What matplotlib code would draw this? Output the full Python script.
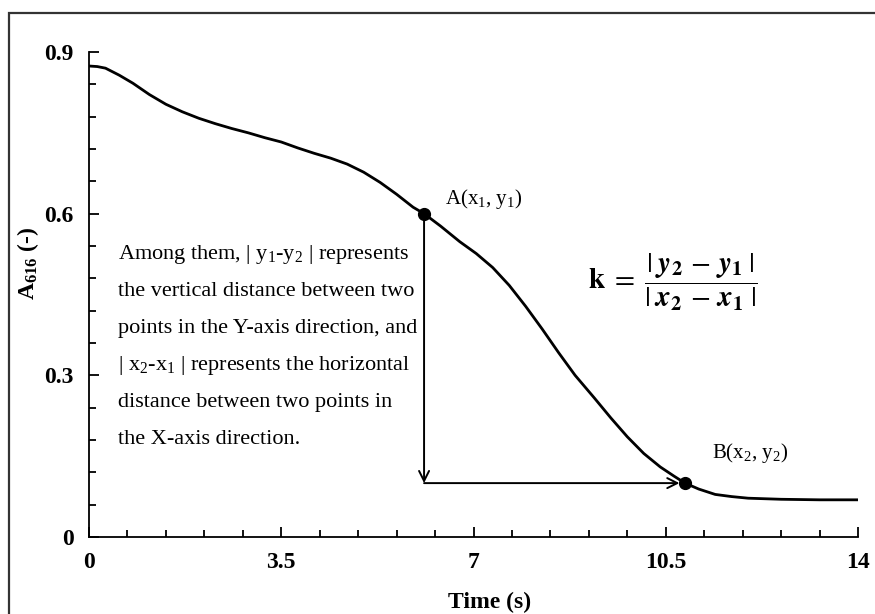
import numpy as np
import matplotlib
matplotlib.use('Agg')
import matplotlib.pyplot as plt
from matplotlib.patches import Rectangle
from matplotlib.ticker import MultipleLocator

plt.rcParams['font.family'] = ['Liberation Serif', 'DejaVu Serif']
plt.rcParams['mathtext.fontset'] = 'custom'
plt.rcParams['mathtext.rm'] = 'Liberation Serif'
plt.rcParams['mathtext.it'] = 'Liberation Serif:italic'
plt.rcParams['mathtext.bf'] = 'Liberation Serif:bold'

# Absorbance curve
tiempo = [0.0, 0.15, 0.30, 0.55, 0.80, 1.10, 1.40, 1.70, 2.00, 2.30, 2.60, 2.90, 3.20, 3.50,
          3.80, 4.10, 4.40, 4.70, 5.00, 5.30, 5.60, 5.90, 6.10, 6.40, 6.75, 7.05, 7.35,
          7.65, 7.95, 8.25, 8.55, 8.85, 9.20, 9.50, 9.80, 10.10, 10.40, 10.65, 10.85,
          11.10, 11.40, 11.70, 12.00, 12.60, 13.30, 14.0]
absorb = [0.874, 0.873, 0.870, 0.857, 0.842, 0.821, 0.803, 0.789, 0.777, 0.767, 0.758, 0.750,
          0.741, 0.733, 0.722, 0.712, 0.703, 0.692, 0.677, 0.658, 0.636, 0.612, 0.600, 0.577,
          0.548, 0.526, 0.500, 0.467, 0.428, 0.386, 0.342, 0.300, 0.258, 0.221, 0.186, 0.155,
          0.130, 0.113, 0.100, 0.089, 0.079, 0.075, 0.072, 0.070, 0.069, 0.069]

# Points A and B
puntoT = [6.10, 10.85]
puntoA = [0.600, 0.100]

xTicks = [0, 3.5, 7, 10.5, 14]
xTickLabels = ['0', '3.5', '7', '10.5', '14']
yTicks = [0, 0.3, 0.6, 0.9]
yTickLabels = ['0', '0.3', '0.6', '0.9']

texto = ['Among them, | y$_1$-y$_2$ | represents',
         'the vertical distance between two',
         'points in the Y-axis direction, and',
         '| x$_2$-x$_1$ | represents the horizontal',
         'distance between two points in',
         'the X-axis direction.']

fig = plt.figure(figsize=(8.75, 6.14), dpi=100)
ax = fig.add_axes([89 / 875, 1 - 537 / 614, 769 / 875, 485 / 614])

# outer frame
fig.patches.append(Rectangle((9 / 875, -0.05), 1.1, 1 - 13 / 614 + 0.05,
                             transform=fig.transFigure, fill=False,
                             edgecolor='#333333', lw=1.6))

ax.plot(tiempo, absorb, color='black', lw=2.0)
ax.plot(puntoT, puntoA, 'o', color='black', ms=8.5, zorder=5)

# arrows
ax.annotate('', xy=(puntoT[0], puntoA[1]), xytext=(puntoT[0], puntoA[0]),
            arrowprops=dict(arrowstyle='->', lw=1.4, color='black',
                            shrinkA=0, shrinkB=0, mutation_scale=18))
ax.annotate('', xy=(puntoT[1], puntoA[1]), xytext=(puntoT[0], puntoA[1]),
            arrowprops=dict(arrowstyle='->', lw=1.4, color='black',
                            shrinkA=0, shrinkB=4, mutation_scale=18))

ax.text(6.48, 0.618, 'A(x$_1$, y$_1$)', fontsize=15)
ax.text(11.34, 0.147, 'B(x$_2$, y$_2$)', fontsize=15)

for i, linea in enumerate(texto):
    ax.text(0.53, 0.516 - i * 0.0688, linea, fontsize=16, va='baseline')

ax.text(10.63, 0.473,
        r'$\mathbf{k}\;=\;\dfrac{|\;\mathbfit{y}_\mathbf{2}\,-\,\mathbfit{y}_\mathbf{1}\;|}'
        r'{|\;\mathbfit{x}_\mathbf{2}\,-\,\mathbfit{x}_\mathbf{1}\;|}$',
        fontsize=21, ha='center', va='center', math_fontfamily='stix')

ax.set_xlim(0, 14)
ax.set_ylim(0, 0.9)
ax.set_xticks(xTicks)
ax.set_xticklabels(xTickLabels, fontsize=17, fontweight='bold')
ax.set_yticks(yTicks)
ax.set_yticklabels(yTickLabels, fontsize=17, fontweight='bold')
ax.xaxis.set_minor_locator(MultipleLocator(0.7))
ax.yaxis.set_minor_locator(MultipleLocator(0.06))
ax.tick_params(which='both', direction='in', width=1.3)
ax.tick_params(which='major', length=7)
ax.tick_params(which='minor', length=5)
ax.tick_params(axis='y', which='major', pad=11)
ax.tick_params(axis='x', which='major', pad=11)

for lado in ['top', 'right']:
    ax.spines[lado].set_visible(False)
for lado in ['left', 'bottom']:
    ax.spines[lado].set_linewidth(1.3)

ax.set_xlabel('Time (s)', fontsize=17, fontweight='bold')
ax.set_ylabel(r'A$_\mathbf{616}$ (-)', fontsize=17, fontweight='bold')
ax.xaxis.set_label_coords(0.521, -0.113)
ax.yaxis.set_label_coords(-0.062, 0.565)

fig.savefig('out.png', dpi=100)
